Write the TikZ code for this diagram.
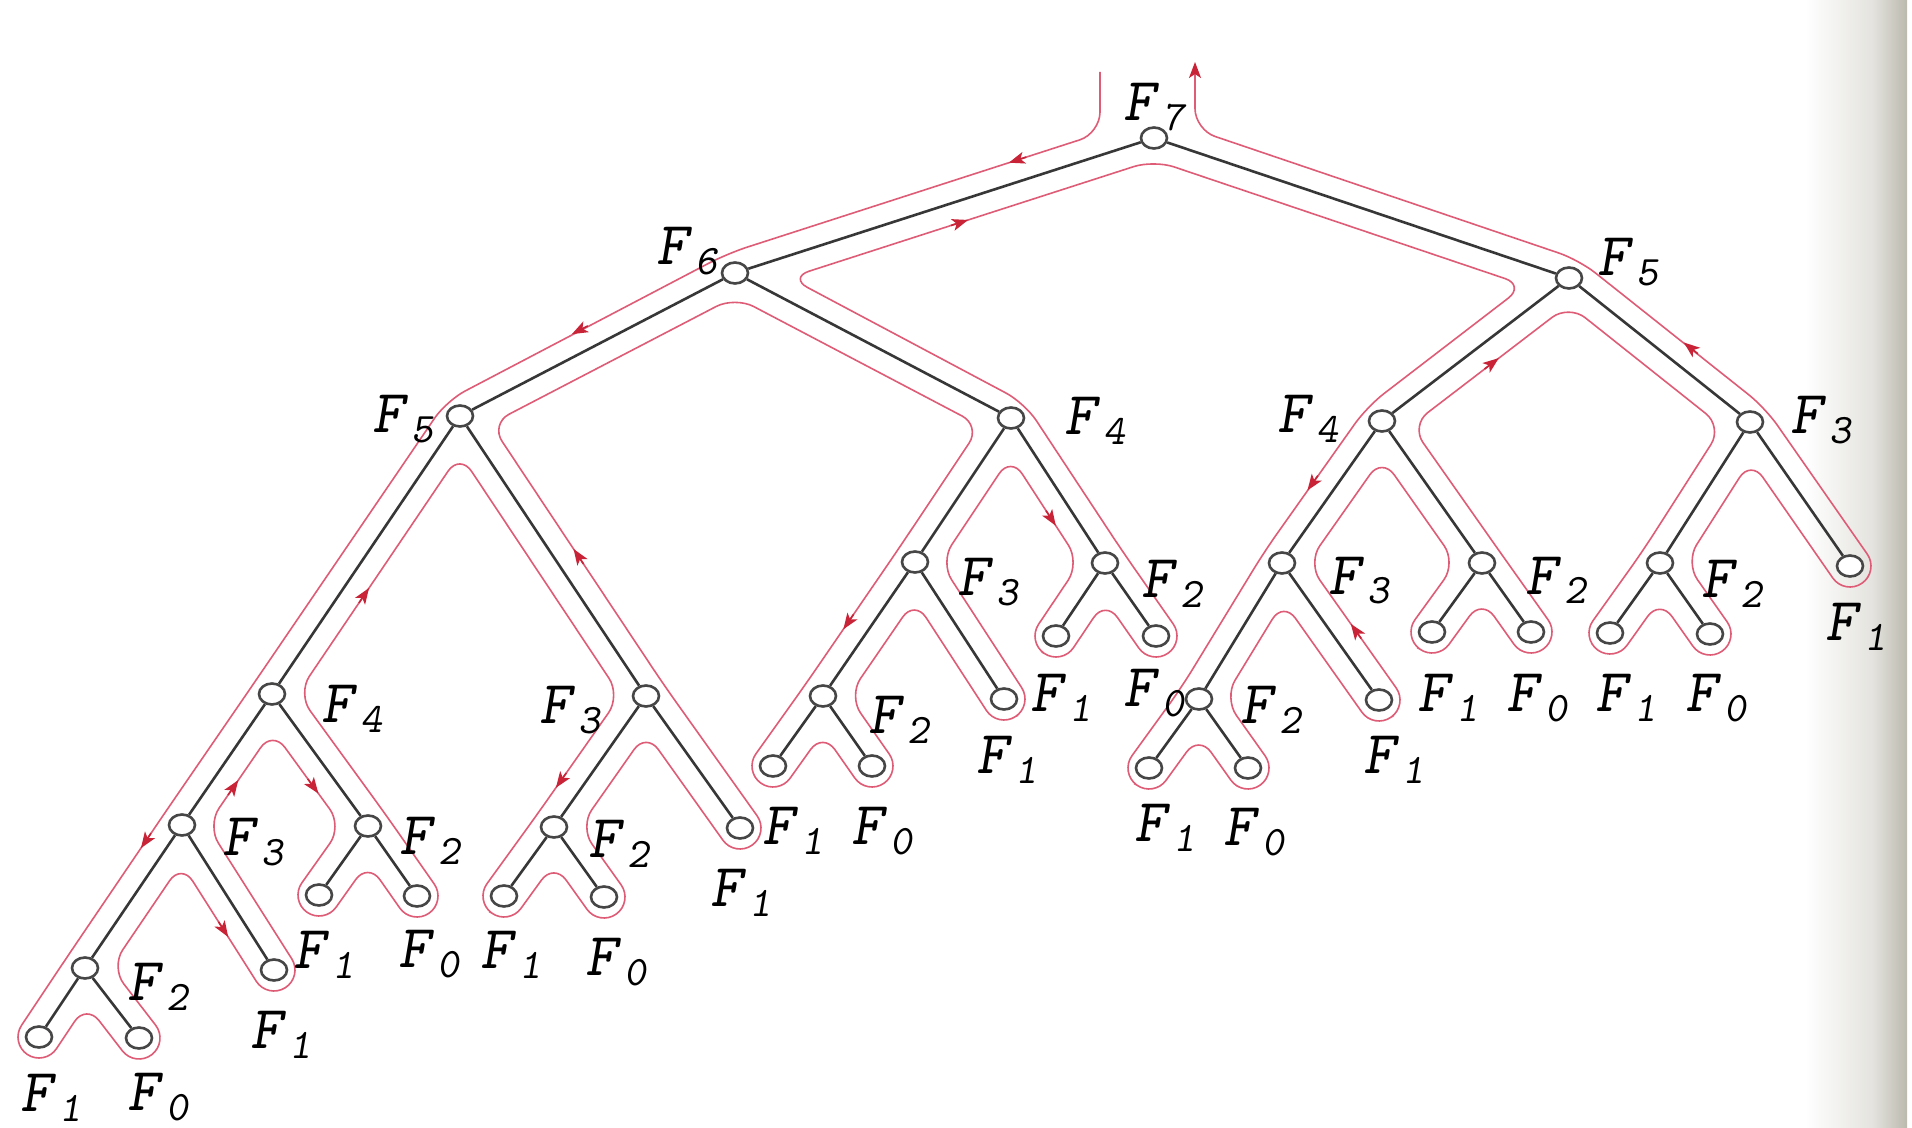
\documentclass[tikz,border=0pt]{standalone}
\usepackage{fontspec}
\usetikzlibrary{calc,shapes.geometric,arrows.meta}
\definecolor{tourred}{RGB}{222,92,118}
\definecolor{arrred}{RGB}{200,35,55}
\definecolor{edgegray}{RGB}{55,55,55}
\definecolor{nodegray}{RGB}{70,70,70}
\definecolor{shadeg}{RGB}{188,186,174}
\newcommand\Fk[1]{F\kern3.5pt\raisebox{-5pt}{\fontsize{21pt}{21pt}\selectfont #1}}
\newcommand\Eoff[2]{%
  \coordinate (#1to#2DA) at ($(#1)!10.5pt!-90:(#2)$);
  \coordinate (#1to#2DB) at ($(#2)!10.5pt!90:(#1)$);
  \coordinate (#1to#2UA) at ($(#1)!10.5pt!90:(#2)$);
  \coordinate (#1to#2UB) at ($(#2)!10.5pt!-90:(#1)$);}
\newcommand\Leaf[2]{%
  \coordinate (#2CA) at ($(#1to#2DB)!-10.5pt!(#1to#2DA)$);
  \coordinate (#2CB) at ($(#1to#2UB)!-10.5pt!(#1to#2UA)$);}
% InnerA: left side straight/convex (midpoint), right side concave (intersection)
\newcommand\InnerA[4]{%
  \coordinate (#2LC) at ($(#1to#2DB)!0.5!(#2to#3DA)$);
  \coordinate (#2VC) at (intersection of #2to#3UA--#2to#3UB and #2to#4DA--#2to#4DB);
  \coordinate (#2RC) at (intersection of #2to#4UA--#2to#4UB and #1to#2UA--#1to#2UB);}
% InnerB: left side concave (intersection), right side straight/convex (midpoint)
\newcommand\InnerB[4]{%
  \coordinate (#2LC) at (intersection of #1to#2DA--#1to#2DB and #2to#3DA--#2to#3DB);
  \coordinate (#2VC) at (intersection of #2to#3UA--#2to#3UB and #2to#4DA--#2to#4DB);
  \coordinate (#2RC) at ($(#2to#4UA)!0.5!(#1to#2UB)$);}
\newcommand\ArrD[3]{\draw[tourarrow] ($(#1to#2DA)!#3!(#1to#2DB)$) -- ($(#1to#2DA)!#3!(#1to#2DB)!9pt!(#1to#2DB)$);}
\newcommand\ArrU[3]{\draw[tourarrow] ($(#1to#2UA)!#3!(#1to#2UB)$) -- ($(#1to#2UA)!#3!(#1to#2UB)!9pt!(#1to#2UA)$);}
\begin{document}
\begin{tikzpicture}[x=0.5pt,y=-0.5pt,
  vtx/.style={ellipse,draw=nodegray,line width=1.3pt,fill=white,minimum width=13pt,minimum height=10.5pt,inner sep=0pt},
  tedge/.style={draw=edgegray,line width=1.3pt},
  tour/.style={draw=tourred,line width=0.8pt,rounded corners=10.5pt},
  tourarrow/.style={draw=arrred,line width=0.8pt,-{Stealth[length=8pt,width=6pt,inset=2pt]}},
  lbl/.style={font=\ttfamily\slshape\fontsize{30.5pt}{32pt}\selectfont,inner sep=0pt,anchor=base west}]
\useasboundingbox (0,0) rectangle (1912,1128);
\fill[white] (0,0) rectangle (1912,1128);
\shade[left color=white,right color=shadeg!40!white] (1805,0) rectangle (1872,1128);
\shade[left color=shadeg!40!white,right color=shadeg] (1872,0) rectangle (1907,1128);
% nodes
\node[vtx] (T) at (1154,138) {};
\node[vtx] (a) at (735,273) {};
\node[vtx] (b) at (1569,278) {};
\node[vtx] (c) at (460,416) {};
\node[vtx] (d) at (1011,418) {};
\node[vtx] (e) at (1382,421) {};
\node[vtx] (f) at (1750,422) {};
\node[vtx] (g) at (272,694) {};
\node[vtx] (h) at (646,696) {};
\node[vtx] (i) at (915,562) {};
\node[vtx] (j) at (1105,563) {};
\node[vtx] (k) at (1282,563) {};
\node[vtx] (l) at (1482,563) {};
\node[vtx] (m) at (1660,563) {};
\node[vtx] (n) at (1850,566) {};
\node[vtx] (o) at (182,825) {};
\node[vtx] (p) at (368,826) {};
\node[vtx] (q) at (554,827) {};
\node[vtx] (r) at (740,828) {};
\node[vtx] (s) at (823,696) {};
\node[vtx] (t) at (1004,699) {};
\node[vtx] (u) at (1056,636) {};
\node[vtx] (v) at (1156,636) {};
\node[vtx] (w) at (1199,699) {};
\node[vtx] (x) at (1379,700) {};
\node[vtx] (y) at (1432,632) {};
\node[vtx] (z) at (1531,632) {};
\node[vtx] (mA) at (1610,633) {};
\node[vtx] (mB) at (1710,634) {};
\node[vtx] (oA) at (85,968) {};
\node[vtx] (oB) at (274,970) {};
\node[vtx] (pA) at (319,895) {};
\node[vtx] (pB) at (417,896) {};
\node[vtx] (qA) at (504,896) {};
\node[vtx] (qB) at (604,897) {};
\node[vtx] (sA) at (773,766) {};
\node[vtx] (sB) at (872,766) {};
\node[vtx] (wA) at (1149,768) {};
\node[vtx] (wB) at (1248,768) {};
\node[vtx] (oAA) at (39,1037) {};
\node[vtx] (oAB) at (139,1038) {};
% edges
\foreach \pa/\ch in {T/a,T/b,a/c,a/d,b/e,b/f,c/g,c/h,d/i,d/j,e/k,e/l,f/m,f/n,g/o,g/p,h/q,h/r,i/s,i/t,j/u,j/v,k/w,k/x,l/y,l/z,m/mA,m/mB,o/oA,o/oB,p/pA,p/pB,q/qA,q/qB,s/sA,s/sB,w/wA,w/wB,oA/oAA,oA/oAB}
  \draw[tedge] (\pa) -- (\ch);
% contour geometry
\Eoff{T}{a}\Eoff{T}{b}\Eoff{a}{c}\Eoff{a}{d}\Eoff{b}{e}\Eoff{b}{f}
\Eoff{c}{g}\Eoff{c}{h}\Eoff{d}{i}\Eoff{d}{j}\Eoff{e}{k}\Eoff{e}{l}
\Eoff{f}{m}\Eoff{f}{n}\Eoff{g}{o}\Eoff{g}{p}\Eoff{h}{q}\Eoff{h}{r}
\Eoff{i}{s}\Eoff{i}{t}\Eoff{j}{u}\Eoff{j}{v}\Eoff{k}{w}\Eoff{k}{x}
\Eoff{l}{y}\Eoff{l}{z}\Eoff{m}{mA}\Eoff{m}{mB}\Eoff{o}{oA}\Eoff{o}{oB}
\Eoff{p}{pA}\Eoff{p}{pB}\Eoff{q}{qA}\Eoff{q}{qB}\Eoff{s}{sA}\Eoff{s}{sB}
\Eoff{w}{wA}\Eoff{w}{wB}\Eoff{oA}{oAA}\Eoff{oA}{oAB}
\Leaf{f}{n}\Leaf{h}{r}\Leaf{i}{t}\Leaf{j}{u}\Leaf{j}{v}\Leaf{k}{x}
\Leaf{l}{y}\Leaf{l}{z}\Leaf{m}{mA}\Leaf{m}{mB}\Leaf{o}{oB}
\Leaf{p}{pA}\Leaf{p}{pB}\Leaf{q}{qA}\Leaf{q}{qB}\Leaf{s}{sA}\Leaf{s}{sB}
\Leaf{w}{wA}\Leaf{w}{wB}\Leaf{oA}{oAA}\Leaf{oA}{oAB}
\InnerA{T}{a}{c}{d}\InnerB{T}{b}{e}{f}\InnerA{a}{c}{g}{h}\InnerB{a}{d}{i}{j}
\InnerA{b}{e}{k}{l}\InnerB{b}{f}{m}{n}\InnerA{c}{g}{o}{p}\InnerB{c}{h}{q}{r}
\InnerA{d}{i}{s}{t}\InnerB{d}{j}{u}{v}\InnerA{e}{k}{w}{x}\InnerB{e}{l}{y}{z}
\InnerA{f}{m}{mA}{mB}\InnerA{g}{o}{oA}{oB}\InnerB{g}{p}{pA}{pB}\InnerA{h}{q}{qA}{qB}
\InnerA{i}{s}{sA}{sB}\InnerA{k}{w}{wA}{wB}\InnerA{o}{oA}{oAA}{oAB}
\coordinate (TopL) at (1100,72);
\coordinate (TopLb) at (1100,160);
\coordinate (TopR) at (1195,62);
\coordinate (TopRb) at (1195,160);
\coordinate (TLC) at (intersection of TopL--TopLb and TtoaDA--TtoaDB);
\coordinate (TVC) at (intersection of TtoaUA--TtoaUB and TtobDA--TtobDB);
\coordinate (TRC) at (intersection of TtobUA--TtobUB and TopR--TopRb);
% the tour
\draw[tour,-{Stealth[length=8pt,width=6pt,inset=2pt,color=arrred]}] (TopL) -- (TLC)
 -- (aLC) -- (cLC) -- (gLC) -- (oLC) -- (oALC) -- (oAACA) -- (oAACB) -- (oAVC)
 -- (oABCA) -- (oABCB) -- (oARC) -- (oVC) -- (oBCA) -- (oBCB) -- (oRC) -- (gVC)
 -- (pLC) -- (pACA) -- (pACB) -- (pVC) -- (pBCA) -- (pBCB) -- (pRC) -- (gRC) -- (cVC)
 -- (hLC) -- (qLC) -- (qACA) -- (qACB) -- (qVC) -- (qBCA) -- (qBCB) -- (qRC) -- (hVC)
 -- (rCA) -- (rCB) -- (hRC) -- (cRC) -- (aVC)
 -- (dLC) -- (iLC) -- (sLC) -- (sACA) -- (sACB) -- (sVC) -- (sBCA) -- (sBCB) -- (sRC)
 -- (iVC) -- (tCA) -- (tCB) -- (iRC) -- (dVC)
 -- (jLC) -- (uCA) -- (uCB) -- (jVC) -- (vCA) -- (vCB) -- (jRC) -- (dRC) -- (aRC) -- (TVC)
 -- (bLC) -- (eLC) -- (kLC) -- (wLC) -- (wACA) -- (wACB) -- (wVC) -- (wBCA) -- (wBCB) -- (wRC)
 -- (kVC) -- (xCA) -- (xCB) -- (kRC) -- (eVC)
 -- (lLC) -- (yCA) -- (yCB) -- (lVC) -- (zCA) -- (zCB) -- (lRC) -- (eRC) -- (bVC)
 -- (fLC) -- (mLC) -- (mACA) -- (mACB) -- (mVC) -- (mBCA) -- (mBCB) -- (mRC) -- (fVC)
 -- (nCA) -- (nCB) -- (fRC) -- (bRC) -- (TRC) -- (TopR);
% arrows on the tour
\ArrD{T}{a}{0.29}
\ArrU{T}{a}{0.50}
\ArrD{a}{c}{0.50}
\ArrU{c}{g}{0.63}
\ArrU{c}{h}{0.57}
\ArrD{o}{oA}{0.14}
\ArrU{g}{o}{0.68}
\ArrD{g}{p}{0.55}
\ArrD{o}{oB}{0.59}
\ArrD{h}{q}{0.68}
\ArrD{i}{s}{0.48}
\ArrD{d}{j}{0.56}
\ArrD{e}{k}{0.47}
\ArrU{k}{x}{0.64}
\ArrU{b}{e}{0.52}
\ArrU{b}{f}{0.64}
% labels
\node[lbl] (LT) at (1123,121) {\Fk{7}};
\node[lbl] (La) at (656,265) {\Fk{6}};
\node[lbl] (Lb) at (1597,276) {\Fk{5}};
\node[lbl] (Lc) at (372,433) {\Fk{5}};
\node[lbl] (Ld) at (1064,435) {\Fk{4}};
\node[lbl] (Le) at (1277,433) {\Fk{4}};
\node[lbl] (Lf) at (1790,434) {\Fk{3}};
\node[lbl] (Lg) at (321,722) {\Fk{4}};
\node[lbl] (Lh) at (539,723) {\Fk{3}};
\node[lbl] (Li) at (957,596) {\Fk{3}};
\node[lbl] (Lj) at (1141,597) {\Fk{2}};
\node[lbl] (Lk) at (1328,594) {\Fk{3}};
\node[lbl] (Ll) at (1525,594) {\Fk{2}};
\node[lbl] (Lm) at (1701,597) {\Fk{2}};
\node[lbl] (Ln) at (1825,640) {\Fk{1}};
\node[lbl] (Lo) at (222,855) {\Fk{3}};
\node[lbl] (Lp) at (399,854) {\Fk{2}};
\node[lbl] (Lq) at (588,857) {\Fk{2}};
\node[lbl] (Lr) at (710,906) {\Fk{1}};
\node[lbl] (Ls) at (868,733) {\Fk{2}};
\node[lbl] (Lt) at (976,773) {\Fk{1}};
\node[lbl] (Lu) at (1030,711) {\Fk{1}};
\node[lbl] (Lv) at (1123,706) {\Fk{0}};
\node[lbl] (Lw) at (1240,723) {\Fk{2}};
\node[lbl] (Lx) at (1363,773) {\Fk{1}};
\node[lbl] (Ly) at (1417,711) {\Fk{1}};
\node[lbl] (Lz) at (1506,711) {\Fk{0}};
\node[lbl] (LmA) at (1595,711) {\Fk{1}};
\node[lbl] (LmB) at (1685,711) {\Fk{0}};
\node[lbl] (LoA) at (127,1000) {\Fk{2}};
\node[lbl] (LoB) at (250,1048) {\Fk{1}};
\node[lbl] (LoAA) at (20,1111) {\Fk{1}};
\node[lbl] (LoAB) at (127,1110) {\Fk{0}};
\node[lbl] (LpA) at (293,968) {\Fk{1}};
\node[lbl] (LpB) at (398,967) {\Fk{0}};
\node[lbl] (LqA) at (480,968) {\Fk{1}};
\node[lbl] (LqB) at (585,975) {\Fk{0}};
\node[lbl] (LsA) at (762,844) {\Fk{1}};
\node[lbl] (LsB) at (851,844) {\Fk{0}};
\node[lbl] (LwA) at (1134,841) {\Fk{1}};
\node[lbl] (LwB) at (1223,845) {\Fk{0}};
\end{tikzpicture}
\end{document}
